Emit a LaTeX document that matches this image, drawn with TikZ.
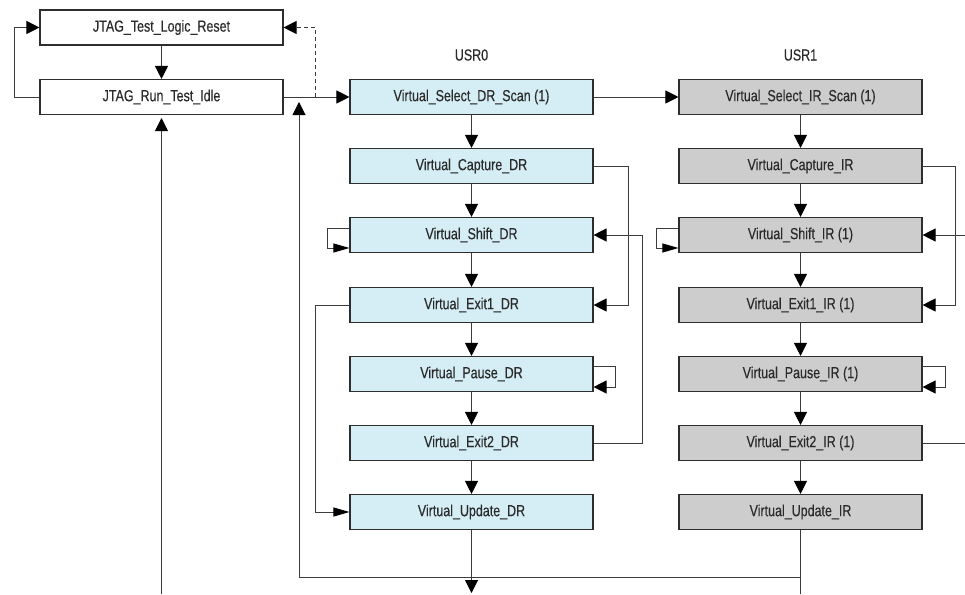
\documentclass[tikz,border=0pt]{standalone}
\usepackage{fontspec}
\setmainfont{Liberation Sans}[FakeStretch=0.78,FakeBold=0.3]
\usetikzlibrary{arrows.meta}
\definecolor{bluefill}{HTML}{D5EEF5}
\definecolor{grayfill}{HTML}{CDCDCD}
\definecolor{edgec}{HTML}{2E2E2E}
\definecolor{wirec}{HTML}{3C3C3C}
\definecolor{textc}{HTML}{2A2A2A}
\begin{document}
\begin{tikzpicture}[x=1pt,y=-1pt,
 box/.style={draw=edgec, line width=1.1pt, minimum width=243pt, minimum height=35pt, inner sep=0pt, font=\fontsize{16}{18}\selectfont, text=textc},
 bbox/.style={box, fill=bluefill},
 gbox/.style={box, fill=grayfill},
 wbox/.style={box, fill=white},
 lbl/.style={font=\fontsize{16}{18}\selectfont, text=textc},
 wire/.style={draw=wirec, line width=1pt},
 arr/.style={wire, -{Triangle[length=13pt,width=13pt,color=black]}},
 sarr/.style={wire, -{Triangle[length=16pt,width=9pt,color=black]}},
 ]
\useasboundingbox (0,0) rectangle (965,594);

% left column
\node[wbox] (reset) at (161.5,27.5) {JTAG\_Test\_Logic\_Reset};
\node[wbox] (idle) at (161.5,97) {JTAG\_Run\_Test\_Idle};

% USR0 column
\node[lbl] (usr0) at (471.5,55) {USR0};
\node[bbox] (sdr) at (471.5,97) {Virtual\_Select\_DR\_Scan (1)};
\node[bbox] (cdr) at (471.5,166) {Virtual\_Capture\_DR};
\node[bbox] (shdr) at (471.5,235) {Virtual\_Shift\_DR};
\node[bbox] (e1dr) at (471.5,305) {Virtual\_Exit1\_DR};
\node[bbox] (pdr) at (471.5,374) {Virtual\_Pause\_DR};
\node[bbox] (e2dr) at (471.5,443) {Virtual\_Exit2\_DR};
\node[bbox] (udr) at (471.5,512) {Virtual\_Update\_DR};

% USR1 column
\node[lbl] (usr1) at (800.5,55) {USR1};
\node[gbox] (sir) at (800.5,97) {Virtual\_Select\_IR\_Scan (1)};
\node[gbox] (cir) at (800.5,166) {Virtual\_Capture\_IR};
\node[gbox] (shir) at (800.5,235) {Virtual\_Shift\_IR (1)};
\node[gbox] (e1ir) at (800.5,305) {Virtual\_Exit1\_IR (1)};
\node[gbox] (pir) at (800.5,374) {Virtual\_Pause\_IR (1)};
\node[gbox] (e2ir) at (800.5,443) {Virtual\_Exit2\_IR (1)};
\node[gbox] (uir) at (800.5,512) {Virtual\_Update\_IR};

% free ends
\coordinate (j) at (315,97);
\coordinate (idlein) at (161.5,118);
\coordinate (idlebot) at (161.5,594);
\coordinate (loopin) at (299,102);
\coordinate (loopr) at (800.5,577);
\coordinate (dout) at (471.5,593);
\coordinate (iout) at (800.5,594);
\coordinate (rout) at (966,443);
\coordinate (rin) at (966,235);

% left connectors
\draw[arr] (reset) -- (idle);
\draw[arr] (idle.west) -- ++(-25,0) |- (reset.west);
\draw[arr] (idle.east) -- (sdr.west);
\draw[wire, dash pattern=on 4pt off 3pt, -{Triangle[length=13pt,width=13pt,color=black]}] (j) |- (reset.east);
\draw[arr] (idlebot) -- (idlein);
\draw[arr] (loopr) -| (loopin);

% USR0 connectors
\draw[arr] (sdr) -- (sir);
\draw[arr] (sdr) -- (cdr);
\draw[arr] (cdr) -- (shdr);
\draw[arr] (shdr) -- (e1dr);
\draw[arr] (e1dr) -- (pdr);
\draw[arr] (pdr) -- (e2dr);
\draw[arr] (e2dr) -- (udr);
\draw[arr] (udr) -- (dout);
\draw[arr] (cdr.east) -- ++(35,0) |- (e1dr.east);
\draw[arr] (e2dr.east) -- ++(49,0) |- (shdr.east);
\draw[sarr] ([yshift=7pt]shdr.west) -- ++(-22,0) |- ([yshift=-13pt]shdr.west);
\draw[sarr] (e1dr.west) -- ++(-34,0) |- (udr.west);
\draw[arr] ([yshift=8pt]pdr.east) -- ++(22,0) |- ([yshift=-13pt]pdr.east);

% USR1 connectors
\draw[arr] (sir) -- (cir);
\draw[arr] (cir) -- (shir);
\draw[arr] (shir) -- (e1ir);
\draw[arr] (e1ir) -- (pir);
\draw[arr] (pir) -- (e2ir);
\draw[arr] (e2ir) -- (uir);
\draw[wire] (uir) -- (iout);
\draw[arr] (cir.east) -- ++(33,0) |- (e1ir.east);
\draw[wire] (e2ir.east) -- (rout);
\draw[arr] (rin) -- (shir.east);
\draw[sarr] ([yshift=7pt]shir.west) -- ++(-22,0) |- ([yshift=-13pt]shir.west);
\draw[arr] ([yshift=8pt]pir.east) -- ++(23,0) |- ([yshift=-13pt]pir.east);
\end{tikzpicture}
\end{document}
